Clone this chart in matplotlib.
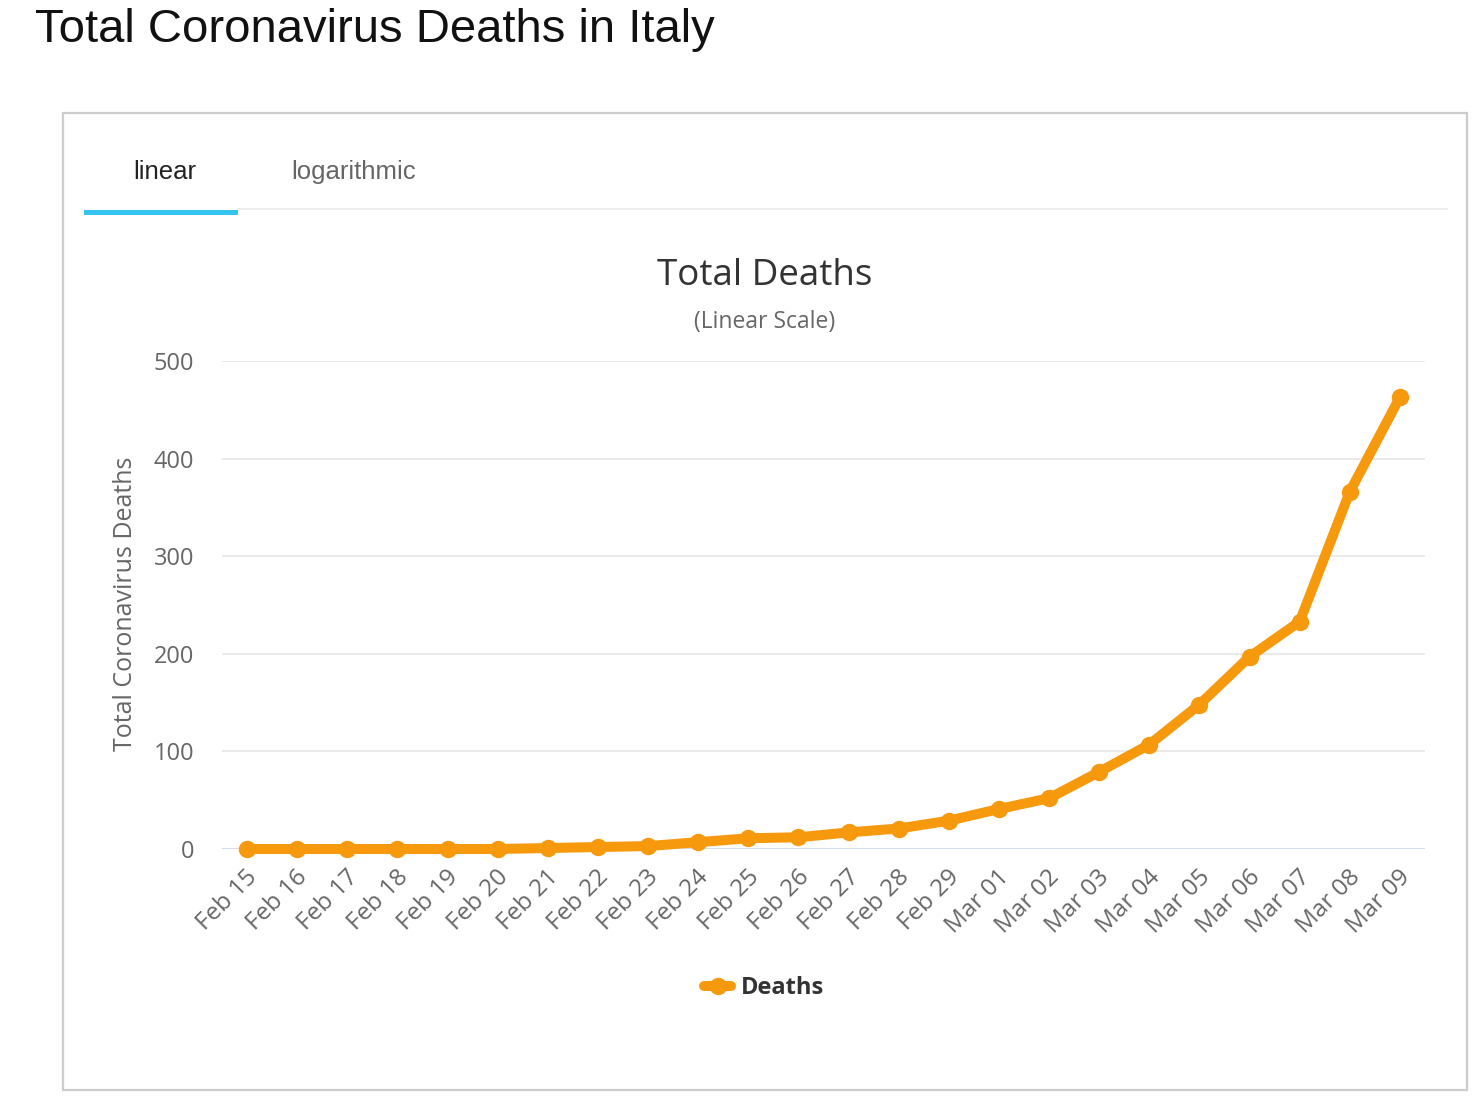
import matplotlib
matplotlib.use("Agg")
import matplotlib.pyplot as plt
from matplotlib.patches import Rectangle
from matplotlib.lines import Line2D
from matplotlib.transforms import ScaledTranslation

dates = ["Feb 15", "Feb 16", "Feb 17", "Feb 18", "Feb 19", "Feb 20", "Feb 21",
         "Feb 22", "Feb 23", "Feb 24", "Feb 25", "Feb 26", "Feb 27", "Feb 28",
         "Feb 29", "Mar 01", "Mar 02", "Mar 03", "Mar 04", "Mar 05", "Mar 06",
         "Mar 07", "Mar 08", "Mar 09"]
deaths = [0, 0, 0, 0, 0, 0, 1, 2, 3, 7, 11, 12, 17, 21, 29, 41, 52, 79, 107,
          148, 197, 233, 366, 463]
yticks = [0, 100, 200, 300, 400, 500]

W, H = 1483, 1119
DPI = 100
fig = plt.figure(figsize=(W / DPI, H / DPI), dpi=DPI)
fig.patch.set_facecolor("white")

def fx(px):
    return px / W

def fy(py):
    return 1 - py / H

body = ["Open Sans", "DejaVu Sans"]
helv = ["Liberation Sans", "DejaVu Sans"]

# page title
fig.text(fx(35), fy(42), "Total Coronavirus Deaths in Italy", family=helv,
         fontsize=34, color="#111111", ha="left", va="baseline")

# outer box
fig.patches.append(Rectangle((fx(63), fy(1090)), fx(1467) - fx(63), fy(113) - fy(1090),
                             transform=fig.transFigure, fill=False,
                             edgecolor="#cccccc", linewidth=1.6))

# tabs
fig.text(fx(165), fy(172), "linear", family=helv, fontsize=18.5, color="#222222",
         ha="center", va="center")
fig.text(fx(354), fy(172), "logarithmic", family=helv, fontsize=18.5, color="#666666",
         ha="center", va="center")
fig.lines.append(Line2D([fx(238), fx(1447)], [fy(209), fy(209)], transform=fig.transFigure,
                        color="#eeeeee", linewidth=1.5))
fig.patches.append(Rectangle((fx(84), fy(215.5)), fx(238) - fx(84), fy(210) - fy(215.5),
                             transform=fig.transFigure, facecolor="#35c3ef",
                             edgecolor="none"))

# chart titles
fig.text(fx(765), fy(276), "Total Deaths", family=body, fontsize=26.5, color="#333333",
         ha="center", va="center")
fig.text(fx(765), fy(322), "(Linear Scale)", family=body, fontsize=16.5, color="#666666",
         ha="center", va="center")

# axes
ax = fig.add_axes([fx(222), fy(849), fx(1425) - fx(222), fy(361) - fy(849)])
ax.set_facecolor("none")
x = list(range(len(dates)))
color = "#f7990c"
ax.plot(x, deaths, color=color, linewidth=7.2, marker="o", markersize=11.5,
        solid_joinstyle="round", solid_capstyle="round", clip_on=False, zorder=5,
        label="Deaths")
ax.set_xlim(-0.5, len(dates) - 0.5)
ax.set_ylim(0, 500)
ax.set_yticks(yticks)
ax.set_yticklabels([str(v) for v in yticks], family=body, fontsize=17, color="#666666")
for v in yticks:
    ax.axhline(v, color="#ccd6eb" if v == 0 else "#e6e6e6", linewidth=1.2, zorder=1)
for s in ax.spines.values():
    s.set_visible(False)
ax.tick_params(axis="y", length=0, pad=20)
ax.tick_params(axis="x", length=0, pad=18)
ax.set_xticks(x)
ax.set_xticklabels(dates, family=body, fontsize=17.5, color="#666666", rotation=45,
                   ha="right", va="center", rotation_mode="anchor")
off = ScaledTranslation(7 / DPI, 0, fig.dpi_scale_trans)
for lab in ax.get_xticklabels():
    lab.set_transform(lab.get_transform() + off)

fig.text(fx(125), fy(604), "Total Coronavirus Deaths", family=body, fontsize=18,
         color="#666666", rotation=90, ha="center", va="center")

leg = ax.legend(loc="center", bbox_to_anchor=(fx(764), fy(988)),
                bbox_transform=fig.transFigure, frameon=False,
                handlelength=1.15, handletextpad=0.4,
                prop={"family": body, "size": 17, "weight": "bold"})
for t in leg.get_texts():
    t.set_color("#333333")

fig.savefig("out.png", dpi=DPI, facecolor="white")
